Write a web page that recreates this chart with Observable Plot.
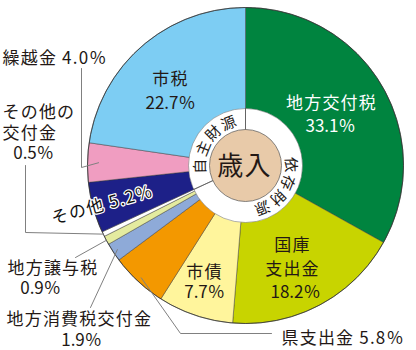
<!DOCTYPE html>
<html>
<head>
<meta charset="utf-8">
<script src="https://cdn.jsdelivr.net/npm/d3@7"></script>
<script src="https://cdn.jsdelivr.net/npm/@observablehq/plot@0.6"></script>
<style>
  body { margin: 0; background: #fff; }
  #chart svg { display: block; }
</style>
</head>
<body>
<div id="chart"></div>
<script>
// Revenue breakdown (歳入), clockwise from 12 o'clock
const categories = ["地方交付税", "国庫支出金", "市債", "県支出金", "地方消費税交付金", "地方譲与税", "その他の交付金", "その他", "繰越金", "市税"];
const shares = [33.1, 18.2, 7.7, 5.8, 1.9, 0.9, 0.5, 5.2, 4.0, 22.7];
const colors = ["#00843f", "#c8d400", "#fff59c", "#f39800", "#8eaad8", "#e4eb9f", "#ffffff", "#1d2088", "#f09dc1", "#7dcdf3"];
// how each name is broken across lines in its label
const nameLines = [["地方交付税"], ["国庫", "支出金"], ["市債"], ["県支出金"], ["地方消費税交付金"], ["地方譲与税"], ["その他の", "交付金"], ["その他"], ["繰越金"], ["市税"]];
// funding source of each category (inner ring)
const sourceGroups = ["依存財源", "依存財源", "依存財源", "依存財源", "依存財源", "依存財源", "依存財源", "自主財源", "自主財源", "自主財源"];
const centerLabel = "歳入";

// ---- layout ----
const W = 416, H = 350;
const CX = 245, CY = 165, R = 158;
const RING_OUT = 57, RING_IN = 36, RING_TEXT = 45;
const FONT = "'Noto Sans CJK JP', 'Noto Sans', sans-serif";
const FS = 17;

const pct = v => v.toFixed(1) + "％";
const polar = (a, r) => ({x: CX + r * Math.sin(a), y: CY - r * Math.cos(a)});

const arcs = d3.pie().sort(null).value(d => d)(shares);

// slice polygons
const slices = arcs.map((p, i) => {
  const pts = [{x: CX, y: CY}];
  const n = Math.max(2, Math.ceil((p.endAngle - p.startAngle) / (Math.PI / 360)));
  for (let k = 0; k <= n; k++) pts.push(polar(p.startAngle + (p.endAngle - p.startAngle) * k / n, R));
  pts.push({x: CX, y: CY});
  return {pts, color: colors[i]};
});

// label placement: one entry per category, [x, y, anchor] for each line;
// "inline" labels put name and percentage on one line
const spots = [
  {lines: [[331, 103], [330, 126]], fill: "#fff"},
  {lines: [[292, 245], [292, 269], [295, 292]], fill: "#231815"},
  {lines: [[204, 272], [204, 292]], fill: "#231815"},
  {inline: [281, 338, "start"], fill: "#231815",
   leader: [[271, 333], [180, 333]], reach: 0.97},
  {lines: [[6, 319, "start"], [81, 340]], fill: "#231815",
   leader: [[90, 307]], reach: 0.97},
  {lines: [[7, 268, "start"], [40, 288]], fill: "#231815",
   leader: [[75, 257]], reach: 1.0},
  {lines: [[2, 112, "start"], [2, 133, "start"], [33, 153]], fill: "#231815",
   leader: [[25, 165], [25, 232]], reach: 1.0},
  {rotated: 0.94, fill: "#111"},
  {inline: [2, 58, "start"], fill: "#231815",
   leader: [[81, 68], [81, 167]], reach: 0.93},
  {lines: [[170, 79], [170, 103]], fill: "#231815"}
];

const textRows = [];
const rotatedRows = [];
const leaders = [];
spots.forEach((s, i) => {
  const a = (arcs[i].startAngle + arcs[i].endAngle) / 2;
  if (s.lines) {
    const words = [...nameLines[i], pct(shares[i])];
    words.forEach((t, k) => {
      const [x, y, anchor] = s.lines[k];
      textRows.push({x, y, text: t, anchor: anchor || "middle", fill: s.fill});
    });
  } else if (s.inline) {
    const [x, y, anchor] = s.inline;
    textRows.push({x, y, text: nameLines[i].join("") + " " + pct(shares[i]), anchor, fill: s.fill});
  } else if (s.rotated) {
    const p = polar(a, R * s.rotated);
    rotatedRows.push({...p, text: nameLines[i].join("") + " " + pct(shares[i]), rotate: a * 180 / Math.PI - 270});
  }
  if (s.leader) {
    const pts = s.leader.map(([x, y]) => ({x, y, id: i}));
    pts.push({...polar(a, R * s.reach), id: i});
    leaders.push(...pts);
  }
});

// inner ring: funding-source captions written along the ring
const groupNames = [...new Set(sourceGroups)];
const ringChars = [];
const ringBreaks = [];
groupNames.forEach(g => {
  const idx = sourceGroups.map((s, i) => s === g ? i : -1).filter(i => i >= 0);
  const a0 = arcs[idx[0]].startAngle, a1 = arcs[idx[idx.length - 1]].endAngle;
  ringBreaks.push({a: a0}, {a: a1});
  const mid = (a0 + a1) / 2 * 180 / Math.PI + 1;
  const chars = [...g];
  const step = 23;
  chars.forEach((c, k) => {
    const deg = mid + (k - (chars.length - 1) / 2) * step;
    const p = polar(deg * Math.PI / 180, RING_TEXT);
    ringChars.push({...p, text: c, rotate: deg});
  });
});
const breakLines = [];
ringBreaks.forEach((b, k) => {
  breakLines.push({...polar(b.a, RING_IN), id: k}, {...polar(b.a, RING_OUT), id: k});
});

const chart = Plot.plot({
  width: W,
  height: H,
  margin: 0,
  x: {domain: [0, W], range: [0, W], axis: null},
  y: {domain: [0, H], range: [0, H], axis: null},
  style: {fontFamily: FONT, background: "#fff"},
  marks: [
    ...slices.map(s => Plot.line(s.pts, {x: "x", y: "y", fill: s.color, stroke: "#3a3a3a", strokeWidth: 0.6, strokeOpacity: 0.8})),
    // outer rim
    Plot.dot([{x: CX, y: CY}], {x: "x", y: "y", r: R, fill: "none", stroke: "#333", strokeWidth: 0.8}),
    // funding-source ring and centre disc
    Plot.dot([{x: CX, y: CY}], {x: "x", y: "y", r: RING_OUT, fill: "#fff", stroke: "#666", strokeWidth: 0.5}),
    Plot.line(breakLines, {x: "x", y: "y", z: "id", stroke: "#555", strokeWidth: 0.7}),
    Plot.dot([{x: CX, y: CY}], {x: "x", y: "y", r: RING_IN, fill: "#e8caa9", stroke: "#555", strokeWidth: 0.7}),
    Plot.text([{x: CX - 1, y: CY + 1, text: centerLabel}], {x: "x", y: "y", text: "text", fontSize: 26, fill: "#231815"}),
    Plot.text(ringChars, {x: "x", y: "y", text: "text", rotate: "rotate", fontSize: 15, fill: "#231815"}),
    // leader lines
    Plot.line(leaders, {x: "x", y: "y", z: "id", stroke: "#808080", strokeWidth: 1}),
    // labels
    Plot.text(textRows.filter(d => d.anchor === "middle"), {x: "x", y: "y", text: "text", fill: "fill", fontSize: FS, textAnchor: "middle"}),
    Plot.text(textRows.filter(d => d.anchor === "start"), {x: "x", y: "y", text: "text", fill: "fill", fontSize: FS, textAnchor: "start"}),
    Plot.text(rotatedRows, {x: "x", y: "y", text: "text", rotate: "rotate", fontSize: FS, fill: "#111", stroke: "#fff", strokeWidth: 2.5})
  ]
});

// a little tracking on Japanese words, as in the printed labels
d3.select(chart).selectAll("text")
  .filter(function() { return /[\u3040-\u9fff]/.test(this.textContent) && this.textContent.length > 1; })
  .style("letter-spacing", "1.2px");

document.getElementById("chart").appendChild(chart);
</script>
</body>
</html>
